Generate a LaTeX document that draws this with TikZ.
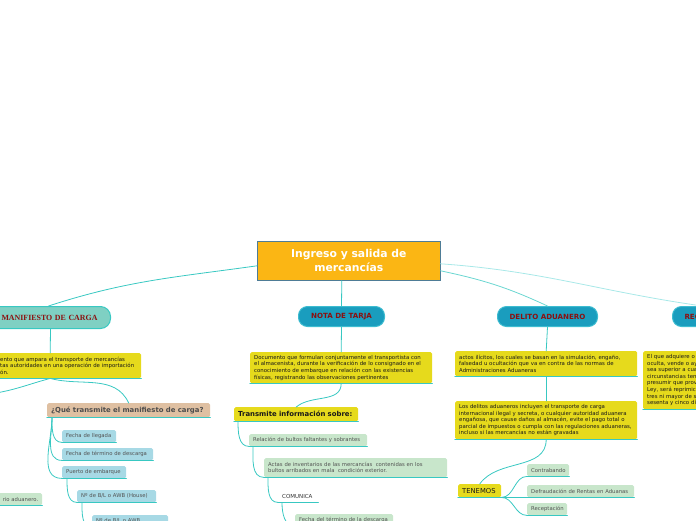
\documentclass[tikz,border=0pt]{standalone}
\usepackage{fontspec}
\setmainfont{DejaVu Sans}
\newfontfamily\pillserif{Liberation Serif}
\usepackage{xcolor}
\definecolor{hubfill}{HTML}{FBB614}
\definecolor{hubline}{HTML}{4E7C96}
\definecolor{notefill}{HTML}{E6DA1C}
\definecolor{linkteal}{HTML}{38C8C2}
\definecolor{linkpale}{HTML}{A8E8E8}
\definecolor{pillfill}{HTML}{1A9DBE}
\definecolor{pillline}{HTML}{3DBCD0}
\definecolor{mintfill}{HTML}{7FD0C3}
\definecolor{tanfill}{HTML}{DFC0A2}
\definecolor{skyfill}{HTML}{A7D9E5}
\definecolor{sagefill}{HTML}{C8E6CB}
\definecolor{darkred}{HTML}{8B1010}

\begin{document}
\begin{tikzpicture}[x=1pt,y=-1pt,line cap=round,
  link/.style={linkteal,line width=0.8pt},
  box/.style={anchor=north west,inner xsep=4pt,inner ysep=0pt,align=left,rounded corners=1.5pt,
    append after command={(\tikzlastnode.south west) edge[linkteal,line width=1.1pt,rounded corners=0pt] (\tikzlastnode.south east)}},
  note/.style={box,fill=notefill,text=black!90,font=\fontsize{5.4}{6.6}\selectfont},
  leaf/.style={box,text=black!68,font=\fontsize{5.3}{6.4}\selectfont,minimum height=12pt},
  sky/.style={leaf,fill=skyfill},
  sage/.style={leaf,fill=sagefill},
  pill/.style={anchor=north west,rounded corners=9pt,fill=pillfill,draw=pillline,line width=1pt,
    text=darkred,font=\fontsize{7.1}{8}\selectfont\bfseries,minimum height=20pt,inner sep=0pt}]
\useasboundingbox (0,0) rectangle (696,520);
\clip (0,0) rectangle (696,520);

\node[anchor=north west,fill=hubfill,draw=hubline,line width=0.6pt,minimum width=183pt,minimum height=39pt,
  text=white,font=\fontsize{10.8}{14}\selectfont\bfseries,align=center,inner sep=0pt] (hub) at (257,241)
  {Ingreso y salida de\\mercancías};

\node[pill,fill=mintfill,draw=linkteal,minimum height=22pt,rounded corners=10pt,text width=114pt,align=right,
  inner xsep=13pt,font=\pillserif\fontsize{7.9}{8}\selectfont\bfseries] (manif) at (-30,306) {MANIFIESTO DE CARGA};
\node[pill,minimum width=86pt] (nota) at (298,306) {NOTA DE TARJA};
\node[pill,minimum width=100pt] (delito) at (497,306) {DELITO ADUANERO};
\node[pill,text width=36pt,align=left,inner xsep=12pt] (rec) at (672,306) {REC};

\draw[link] ([yshift=-5pt]hub.west) to[out=188,in=18] ([xshift=8pt]manif.north);
\draw[link] ([xshift=-7pt]hub.south) -- (nota.north);
\draw[link,linkteal!75] ([yshift=-10pt]hub.east) to[out=-12,in=155] (delito.north);
\draw[link,linkpale] ([yshift=-3pt]hub.east) to[out=-4,in=172] (rec.north);

\node[note,text width=137pt,minimum height=25pt] (manifdef) at (-4,353)
  {ento que ampara el transporte de mercancías\\tas autoridades en una operación de importación\\ón.};
\node[note,font=\fontsize{6.9}{8}\selectfont\bfseries,fill=tanfill,text=black!70,text width=155pt,minimum height=14pt]
  (qtrans) at (47,403) {¿Qué transmite el manifiesto de carga?};
\node[sky,text width=46pt] (llegada) at (62,430) {Fecha de llegada};
\node[sky,text width=83pt] (descarga) at (62,448) {Fecha de término de descarga};
\node[sky,text width=56pt] (puerto) at (62,466) {Puerto de embarque};
\node[sky,text width=71pt] (house) at (77,490) {Nº de B/L o AWB (House)};
\node[sky,text width=68pt] (master) at (92,515) {Nº de B/L o AWB};
\node[sage,text width=54pt,align=right] (aduanero) at (-20,493) {rio aduanero.};
\coordinate (offleft) at (-4,393);

\draw[link] ([xshift=10pt]manif.south) -- ([xshift=-18.5pt]manifdef.north);
\draw[link] ([xshift=-18.5pt]manifdef.south) to[out=-15,in=115] (qtrans.north);
\draw[link] ([xshift=-18.5pt]manifdef.south) to[out=195,in=10] (offleft);
\foreach \kid in {llegada,descarga,puerto}
  \draw[link] ([xshift=5pt]qtrans.south west) to[out=-90,in=180] (\kid.south west);
\draw[link] ([xshift=5pt]puerto.south west) to[out=-90,in=180] (house.south west);
\draw[link] ([xshift=5pt]house.south west) to[out=-90,in=180] (master.south west);

\node[note,text width=174pt,minimum height=31pt] (notadef) at (250,352)
  {Documento que formulan conjuntamente el transportista con\\el almacenista, durante la verificación de lo consignado en el\\conocimiento de embarque en relación con las existencias\\físicas, registrando las observaciones pertinentes};
\node[note,font=\fontsize{6.9}{8}\selectfont\bfseries,text width=116pt,minimum height=14pt] (transmite) at (234,407)
  {Transmite información sobre:};
\node[sage,text width=110pt] (faltantes) at (249,434) {Relación de bultos faltantes y sobrantes};
\node[sage,text width=175pt,minimum height=19pt] (actas) at (264,458)
  {Actas de inventarios de las mercancías\ \ contenidas en los\\bultos arribados en mala\ \ condición exterior.};
\node[box,text=black!80,font=\fontsize{5.5}{6.4}\selectfont,text width=32pt,minimum height=12pt] (comunica) at (278,490) {COMUNICA};
\node[sage,text width=90pt] (termino) at (295,514) {Fecha del término de la descarga};

\draw[link] (nota.south) -- (notadef.north);
\draw[link] (notadef.south) to[out=-90,in=40] (transmite.north);
\draw[link] ([xshift=4pt]transmite.south west) to[out=-90,in=180] (faltantes.south west);
\draw[link] ([xshift=4pt]faltantes.south west) to[out=-90,in=180] (actas.south west);
\draw[link] ([xshift=4pt]actas.south west) to[out=-90,in=180] (comunica.south west);
\draw[link] ([xshift=4pt]comunica.south west) to[out=-90,in=180] (termino.south west);

\node[note,text width=174pt,minimum height=25pt] (delitodef) at (455,351)
  {actos ilícitos, los cuales se basan en la simulación, engaño,\\falsedad u ocultación que va en contra de las normas de\\Administraciones Aduaneras};
\node[note,text width=174pt,minimum height=38pt] (incluyen) at (455,401)
  {Los delitos aduaneros incluyen el transporte de carga\\internacional ilegal y secreta, o cualquier autoridad aduanera\\engañosa, que cause daños al almacén, evite el pago total o\\parcial de impuestos o cumpla con las regulaciones aduaneras,\\incluso si las mercancías no están gravadas};
\node[note,font=\fontsize{6.8}{8}\selectfont,text width=35pt,minimum height=13pt] (tenemos) at (458,484) {TENEMOS};
\node[sage,text width=34pt] (contrabando) at (527,464) {Contrabando};
\node[sage,text width=99pt] (rentas) at (527,485) {Defraudación de Rentas en Aduanas};
\node[sage,text width=32pt] (receptacion) at (527,503) {Receptación};

\draw[link] (delito.south) -- (delitodef.north);
\draw[link] (delitodef.south) -- (incluyen.north);
\draw[link] (incluyen.south) to[out=-90,in=55] (tenemos.north);
\foreach \kid in {contrabando,rentas,receptacion}
  \draw[link] (tenemos.south east) to[out=0,in=180] (\kid.south west);

\node[note,text width=62pt,minimum height=58pt] (recdef) at (643,351)
  {El que adquiere o\\oculta, vende o ay\\sea superior a cua\\circunstancias ten\\presumir que prov\\Ley, será reprimic\\tres ni mayor de s\\sesenta y cinco dí};
\end{tikzpicture}
\end{document}
